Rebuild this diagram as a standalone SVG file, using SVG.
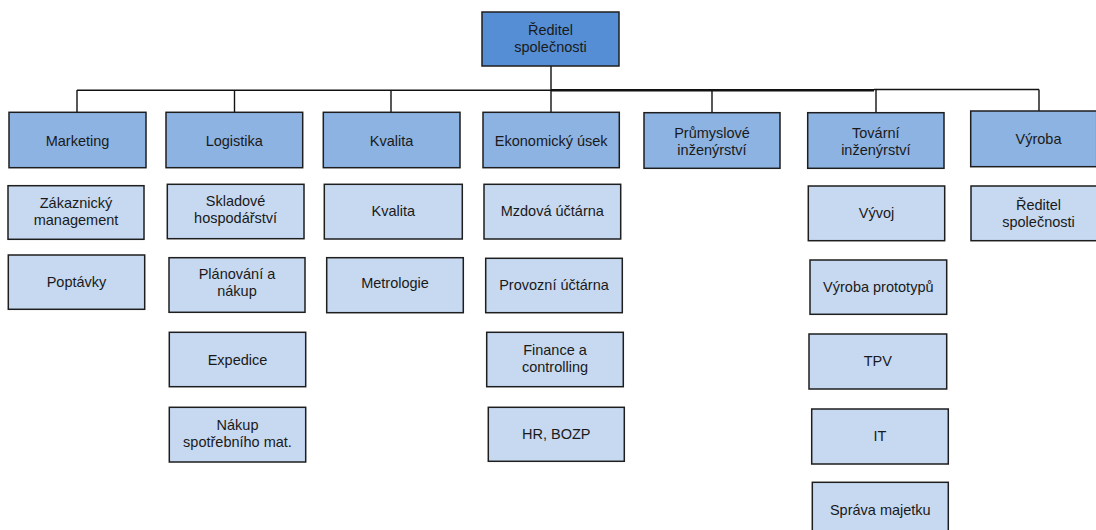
<svg xmlns="http://www.w3.org/2000/svg" width="1096" height="530" viewBox="0 0 1096 530">
  <style>
    .box rect { stroke: #1e1e1e; stroke-width: 1.5; }
    .top rect { fill: #558ed5; }
    .dept rect { fill: #8db3e2; }
    .unit rect { fill: #c6d9f1; }
    text { font-family: "Liberation Sans", Arial, sans-serif; font-size: 14.5px; fill: #1a1a1a; text-anchor: middle; }
    .conn { fill: none; stroke: #111; stroke-width: 1.4; }
    .conn-bold { fill: none; stroke: #111; stroke-width: 2.6; }
  </style>

  <!-- connectors -->
  <g id="connectors">
    <path class="conn" d="M77,90.3 H551"/>
    <path class="conn-bold" d="M551,90.3 H874"/>
    <path class="conn" d="M874,89.5 H1039"/>
    <path class="conn" d="M551,66 V112"/>
    <path class="conn" d="M77,90 V112"/>
    <path class="conn" d="M234.5,90 V112"/>
    <path class="conn" d="M391,90 V112"/>
    <path class="conn" d="M712,90 V112.7"/>
    <path class="conn" d="M876,89.5 V112.7"/>
    <path class="conn" d="M1039,89.5 V111"/>
  </g>

  <!-- top -->
  <g id="reditel" class="box top">
    <rect x="482" y="12" width="137" height="54"/>
    <text x="550.5" y="35">Ředitel</text>
    <text x="550.5" y="52">společnosti</text>
  </g>

  <!-- departments -->
  <g id="marketing" class="box dept">
    <rect x="9" y="112.3" width="137" height="55.4"/>
    <text x="77.5" y="145.5">Marketing</text>
  </g>
  <g id="logistika" class="box dept">
    <rect x="166" y="112.3" width="136.7" height="55.4"/>
    <text x="234.3" y="145.5">Logistika</text>
  </g>
  <g id="kvalita" class="box dept">
    <rect x="323.3" y="112.3" width="136.7" height="55.4"/>
    <text x="391.6" y="145.5">Kvalita</text>
  </g>
  <g id="ekonomicky-usek" class="box dept">
    <rect x="483" y="112.3" width="136.3" height="55.4"/>
    <text x="551.2" y="145.5">Ekonomický úsek</text>
  </g>
  <g id="prumyslove-inzenyrstvi" class="box dept">
    <rect x="644" y="112.7" width="136" height="55.6"/>
    <text x="712" y="137.5">Průmyslové</text>
    <text x="712" y="154.5">inženýrství</text>
  </g>
  <g id="tovarni-inzenyrstvi" class="box dept">
    <rect x="807.7" y="112.7" width="136.3" height="55.6"/>
    <text x="875.8" y="137.5">Tovární</text>
    <text x="875.8" y="154.5">inženýrství</text>
  </g>
  <g id="vyroba" class="box dept">
    <rect x="970.7" y="111" width="126" height="55.7"/>
    <text x="1038.5" y="144">Výroba</text>
  </g>

  <!-- units: Marketing -->
  <g id="zakaznicky-management" class="box unit">
    <rect x="8" y="185.7" width="136" height="53.6"/>
    <text x="76" y="207.5">Zákaznický</text>
    <text x="76" y="224.5">management</text>
  </g>
  <g id="poptavky" class="box unit">
    <rect x="8.3" y="255" width="136.4" height="54.3"/>
    <text x="76.5" y="287">Poptávky</text>
  </g>

  <!-- units: Logistika -->
  <g id="skladove-hospodarstvi" class="box unit">
    <rect x="167.3" y="184.3" width="136.7" height="54.4"/>
    <text x="235.6" y="205.5">Skladové</text>
    <text x="235.6" y="222.5">hospodářství</text>
  </g>
  <g id="planovani-a-nakup" class="box unit">
    <rect x="169" y="257.7" width="136" height="54.6"/>
    <text x="237" y="279">Plánování a</text>
    <text x="237" y="296">nákup</text>
  </g>
  <g id="expedice" class="box unit">
    <rect x="169.3" y="332.3" width="136.4" height="54.4"/>
    <text x="237.5" y="364.5">Expedice</text>
  </g>
  <g id="nakup-spotrebniho-mat" class="box unit">
    <rect x="169.3" y="407.3" width="136.4" height="54.7"/>
    <text x="237.5" y="430">Nákup</text>
    <text x="237.5" y="447">spotřebního mat.</text>
  </g>

  <!-- units: Kvalita -->
  <g id="kvalita-unit" class="box unit">
    <rect x="324.3" y="184.3" width="138" height="54.7"/>
    <text x="393.3" y="216">Kvalita</text>
  </g>
  <g id="metrologie" class="box unit">
    <rect x="326.7" y="257.7" width="136.6" height="55"/>
    <text x="395" y="288">Metrologie</text>
  </g>

  <!-- units: Ekonomický úsek -->
  <g id="mzdova-uctarna" class="box unit">
    <rect x="484" y="184.3" width="136.7" height="54.7"/>
    <text x="552.3" y="216">Mzdová účtárna</text>
  </g>
  <g id="provozni-uctarna" class="box unit">
    <rect x="485.7" y="258.3" width="136.6" height="54.4"/>
    <text x="554" y="290">Provozní účtárna</text>
  </g>
  <g id="finance-a-controlling" class="box unit">
    <rect x="486.7" y="332.3" width="136.6" height="54.4"/>
    <text x="555" y="355">Finance a</text>
    <text x="555" y="372">controlling</text>
  </g>
  <g id="hr-bozp" class="box unit">
    <rect x="488.3" y="407.3" width="136" height="54"/>
    <text x="556.3" y="439">HR, BOZP</text>
  </g>

  <!-- units: Tovární inženýrství -->
  <g id="vyvoj" class="box unit">
    <rect x="808.3" y="186" width="136.4" height="54.7"/>
    <text x="876.5" y="218">Vývoj</text>
  </g>
  <g id="vyroba-prototypu" class="box unit">
    <rect x="810" y="260" width="136.7" height="54.3"/>
    <text x="878.3" y="292">Výroba prototypů</text>
  </g>
  <g id="tpv" class="box unit">
    <rect x="809" y="334" width="137.7" height="55"/>
    <text x="877.8" y="366">TPV</text>
  </g>
  <g id="it" class="box unit">
    <rect x="811.7" y="409" width="136.6" height="55"/>
    <text x="880" y="441">IT</text>
  </g>
  <g id="sprava-majetku" class="box unit">
    <rect x="812.3" y="482.3" width="136" height="50"/>
    <text x="880.3" y="515">Správa majetku</text>
  </g>

  <!-- units: Výroba -->
  <g id="reditel-spolecnosti-unit" class="box unit">
    <rect x="971" y="186" width="126" height="54.7"/>
    <text x="1038.5" y="209.5">Ředitel</text>
    <text x="1038.5" y="226.5">společnosti</text>
  </g>
</svg>
